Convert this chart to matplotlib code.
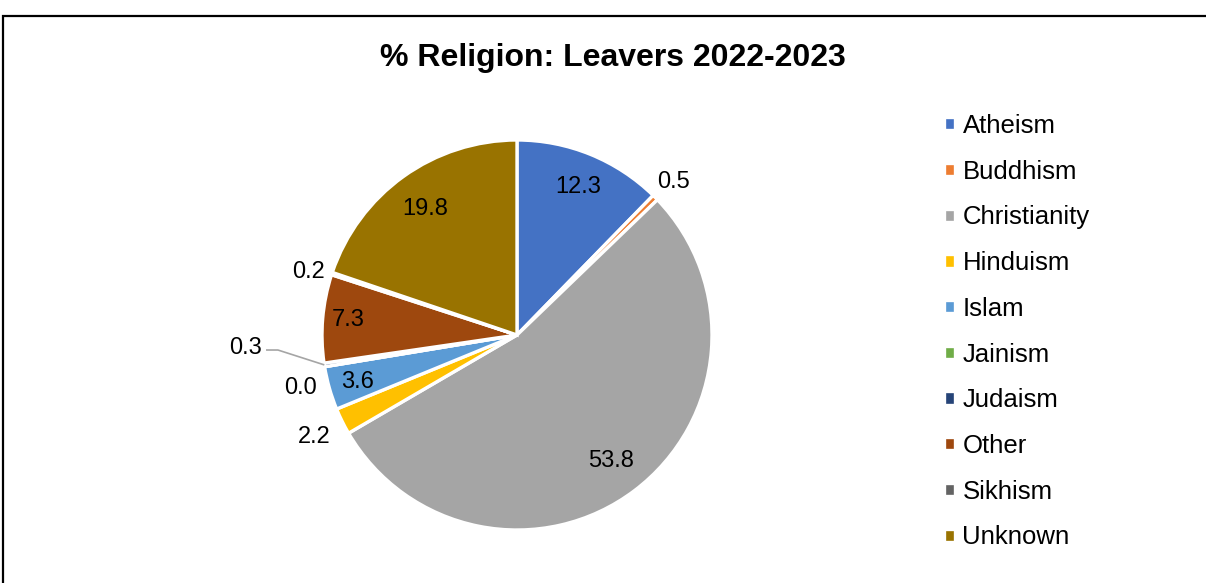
import numpy as np
import matplotlib.pyplot as plt
from matplotlib.patches import Rectangle

plt.rcParams["font.family"] = ["Liberation Sans", "DejaVu Sans"]

religions = ["Atheism", "Buddhism", "Christianity", "Hinduism", "Islam",
             "Jainism", "Judaism", "Other", "Sikhism", "Unknown"]
percent = [12.3, 0.5, 53.8, 2.2, 3.6, 0.0, 0.3, 7.3, 0.2, 19.8]
colours = ["#4472C4", "#ED7D31", "#A5A5A5", "#FFC000", "#5B9BD5",
           "#70AD47", "#264478", "#9E480E", "#636363", "#997300"]

fig = plt.figure(figsize=(12.06, 5.83), dpi=100)

# pie axes: radius 1 -> 195 px, centre at (517, 335) px from top-left
R = 195
half = 1.5 * R
ax = fig.add_axes([(517 - half) / 1206, (583 - 335 - half) / 583,
                   2 * half / 1206, 2 * half / 583])

wedges, _ = ax.pie(percent, colors=colours, startangle=90, counterclock=False,
                   wedgeprops=dict(edgecolor="white", linewidth=2.4),
                   radius=1.0, center=(0, 0))
ax.set_xlim(-1.5, 1.5)
ax.set_ylim(-1.5, 1.5)
ax.set_aspect("equal")
ax.axis("off")

LABEL_FS = 17

# label placement: (radius, angle shift in degrees)
place = {
    "Atheism": (0.83, 0), "Buddhism": (1.13, 0), "Christianity": (0.80, 0),
    "Hinduism": (1.16, 0), "Islam": (0.85, 0), "Jainism": (1.14, 4),
    "Judaism": None, "Other": (0.87, -1), "Sikhism": (1.12, 1),
    "Unknown": (0.81, 0),
}

for w, name, val in zip(wedges, religions, percent):
    mid = np.deg2rad((w.theta1 + w.theta2) / 2)
    if place[name] is None:
        # small slice with a leader line out to the left
        p0 = (np.cos(mid), np.sin(mid))
        p1 = (-1.226, -0.077)
        p2 = (-1.287, -0.077)
        ax.plot([p0[0], p1[0], p2[0]], [p0[1], p1[1], p2[1]],
                color="#A5A5A5", lw=1.2, solid_capstyle="butt")
        ax.text(p2[0] - 0.02, p2[1] + 0.01, f"{val:.1f}", ha="right",
                va="center", fontsize=LABEL_FS)
        continue
    r, shift = place[name]
    a = mid + np.deg2rad(shift)
    ax.text(r * np.cos(a), r * np.sin(a) - 0.01, f"{val:.1f}", ha="center",
            va="center", fontsize=LABEL_FS, color="black")

fig.text(613 / 1206, 1 - 58 / 583, "% Religion: Leavers 2022-2023",
         ha="center", va="center", fontsize=23, fontweight="bold")

leg = fig.legend(wedges, religions, loc="upper left",
                 bbox_to_anchor=(944 / 1206, 1 - 114 / 583),
                 frameon=False, fontsize=18.5, handlelength=0.42,
                 handleheight=0.42, handletextpad=0.3, labelspacing=0.845,
                 borderpad=0, borderaxespad=0)

# chart border
fig.patches.append(Rectangle((3 / 1206, -0.05), 1.1, 0.05 + 1 - 16 / 583,
                             transform=fig.transFigure, fill=False,
                             edgecolor="black", linewidth=1.6))

fig.savefig("out.png", dpi=100)
